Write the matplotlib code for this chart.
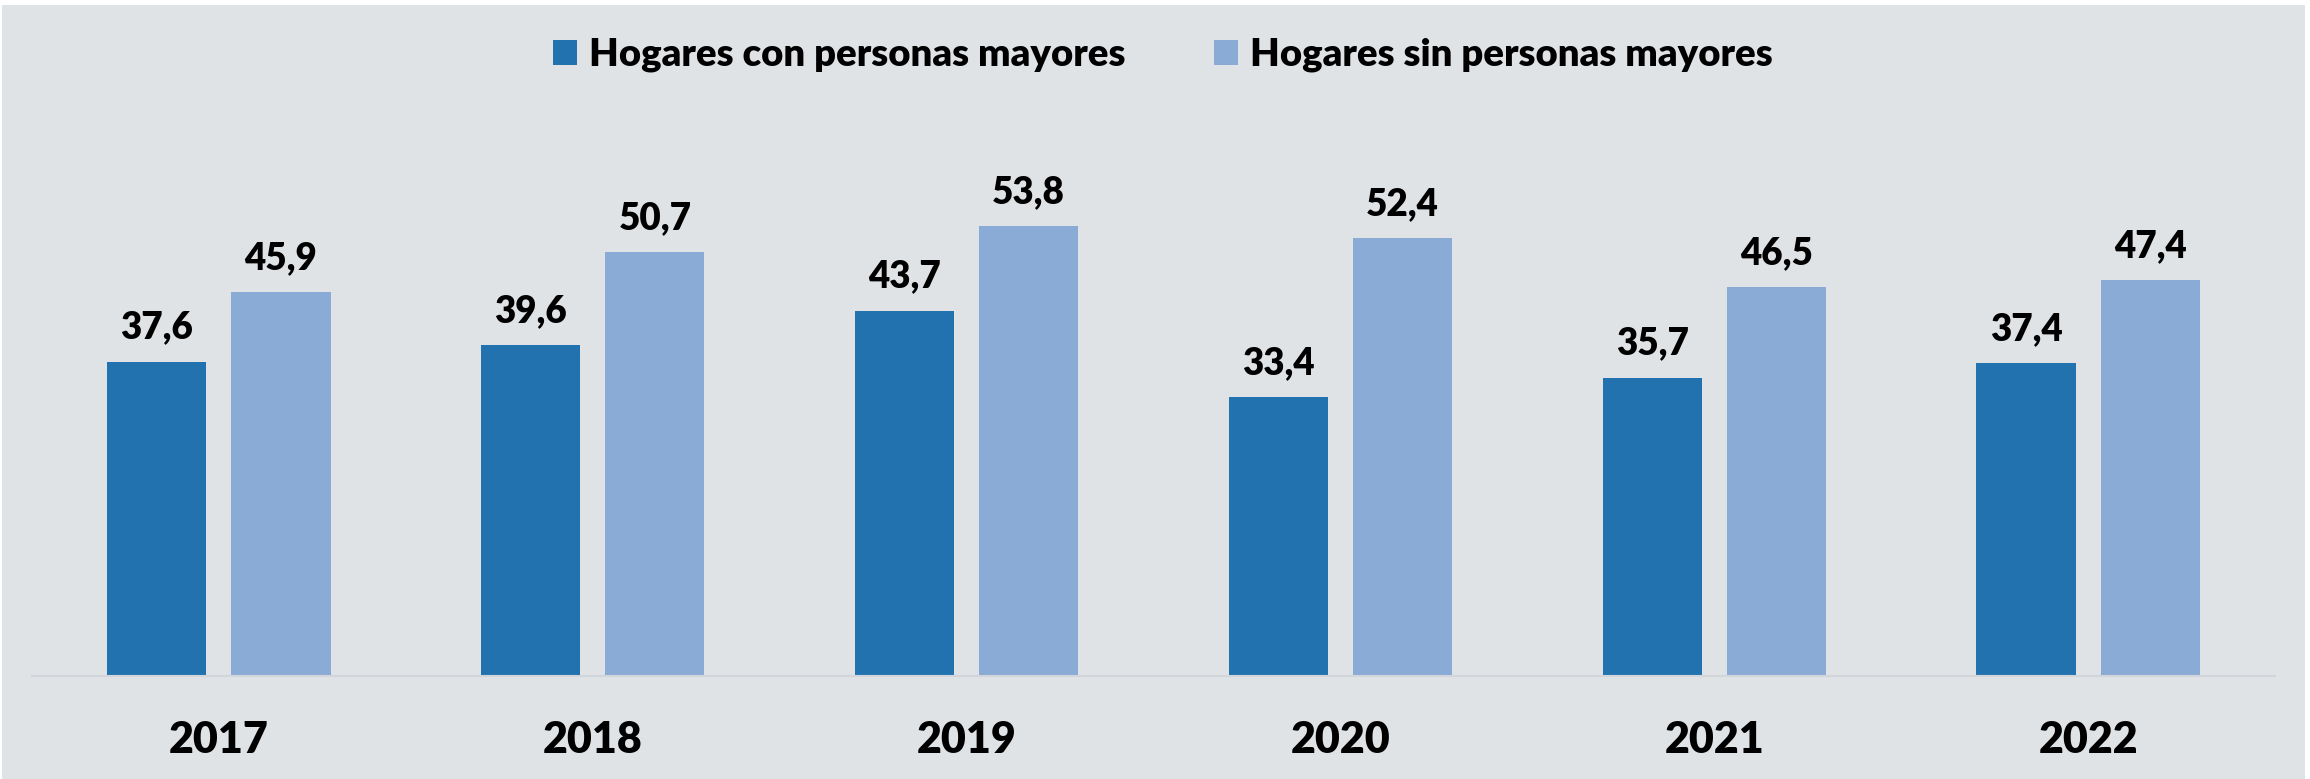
import matplotlib
matplotlib.use("Agg")
import matplotlib.pyplot as plt
from matplotlib.patches import Rectangle, Patch
import numpy as np

years = ["2017", "2018", "2019", "2020", "2021", "2022"]
con_mayores = [37.6, 39.6, 43.7, 33.4, 35.7, 37.4]
sin_mayores = [45.9, 50.7, 53.8, 52.4, 46.5, 47.4]
series_names = ["Hogares con personas mayores", "Hogares sin personas mayores"]

DARK = "#2272b0"
LIGHT = "#89abd6"
BG = "#dfe3e6"

plt.rcParams['font.family'] = ['Lato', 'DejaVu Sans']
plt.rcParams['font.weight'] = 'bold'

W, H = 2310, 779
fig = plt.figure(figsize=(W / 100, H / 100), dpi=100, facecolor='white')
fig.patches.append(Rectangle((2 / W, 0), 2303 / W, 774 / H, transform=fig.transFigure,
                             facecolor=BG, edgecolor='none', zorder=-10))

ax = fig.add_axes([32 / W, 103 / H, 2243 / W, 501.6 / H])
ax.patch.set_visible(False)

x = np.arange(len(years))
bw = 0.265
off = 0.166
b1 = ax.bar(x - off, con_mayores, bw, color=DARK, zorder=2)
b2 = ax.bar(x + off, sin_mayores, bw, color=LIGHT, zorder=2)

for bars, vals in [(b1, con_mayores), (b2, sin_mayores)]:
    for rect, v in zip(bars, vals):
        ax.annotate(f"{v:.1f}".replace('.', ','),
                    (rect.get_x() + rect.get_width() / 2, v),
                    xytext=(0, 16.6), textcoords='offset points',
                    ha='center', va='baseline', fontsize=26.5, fontweight='heavy')

ax.set_xlim(-0.5, len(years) - 0.5)
ax.set_ylim(0, 60)
ax.set_xticks(x)
ax.set_xticklabels(years, fontsize=31, fontweight='heavy')
ax.tick_params(axis='x', length=0, pad=32)
ax.set_yticks([])
for s in ['top', 'left', 'right']:
    ax.spines[s].set_visible(False)
ax.spines['bottom'].set_color('#d2d6da')
ax.spines['bottom'].set_linewidth(1.5)

handles = [Patch(facecolor=DARK), Patch(facecolor=LIGHT)]
fig.legend(handles, series_names, loc='center', bbox_to_anchor=(1163 / W, 1 - 55 / H),
           ncol=2, frameon=False, prop={'size': 27.5, 'weight': 'heavy'},
           handlelength=0.63, handleheight=0.63, handletextpad=0.32,
           columnspacing=2.3)

fig.savefig("out.png", dpi=100, facecolor='white')
